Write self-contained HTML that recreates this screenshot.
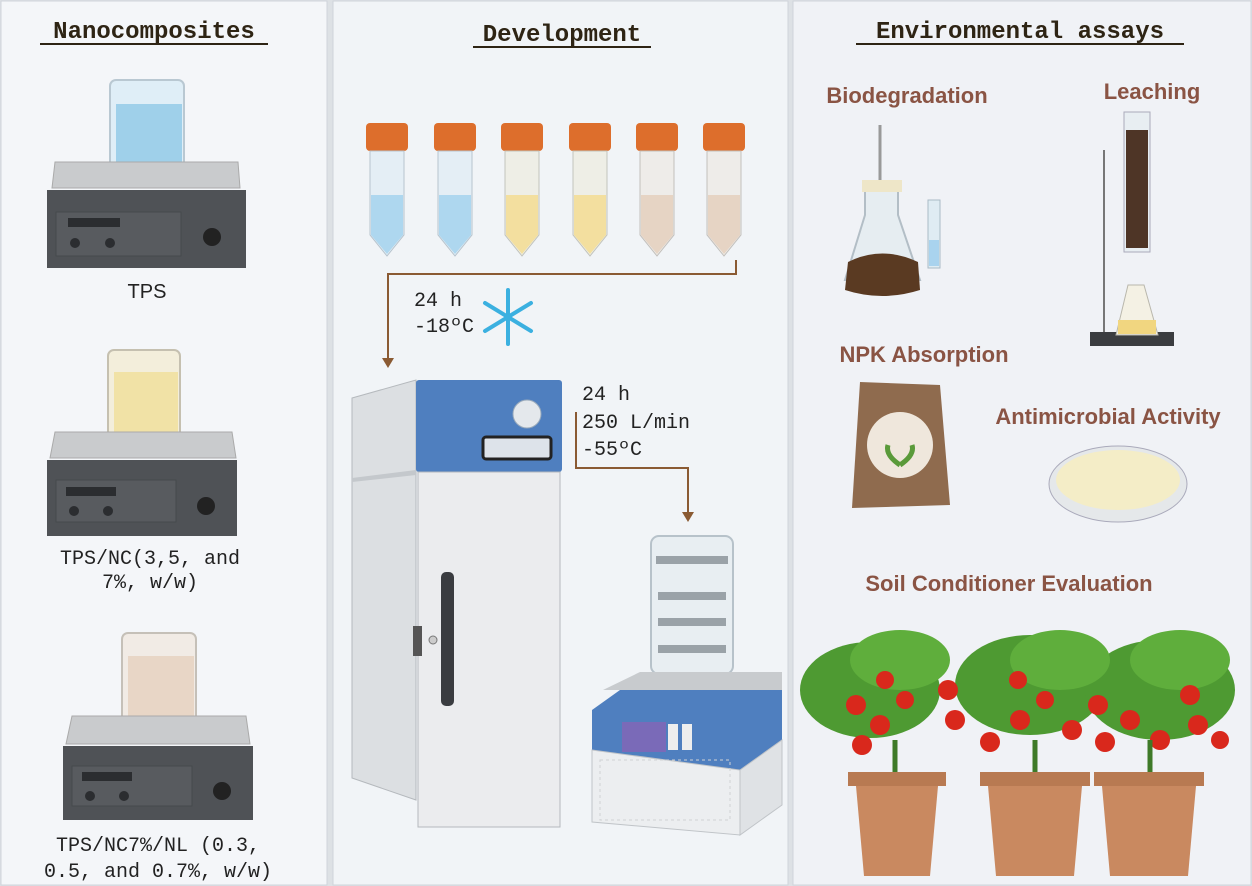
<!DOCTYPE html>
<html><head><style>
html,body{margin:0;padding:0;background:#e9ecef}
svg{display:block}
.t{font-family:"Liberation Mono",monospace;font-weight:bold;fill:#2e2414}
.m{font-family:"Liberation Mono",monospace;fill:#222}
.s{font-family:"Liberation Sans",sans-serif;font-weight:bold;fill:#8a5444}
</style></head><body>
<svg width="1252" height="886" viewBox="0 0 1252 886" xmlns="http://www.w3.org/2000/svg">
<rect width="1252" height="886" fill="#dde1e5"/>
<rect x="1" y="1" width="326" height="884" fill="#f4f6f9" stroke="#cfd4da"/>
<rect x="333" y="1" width="455" height="884" fill="#f1f4f7" stroke="#cfd4da"/>
<rect x="793" y="1" width="458" height="884" fill="#f0f2f6" stroke="#cfd4da"/>

<!-- titles -->
<text x="154" y="38" class="t" font-size="24" text-anchor="middle">Nanocomposites</text>
<line x1="40" y1="44" x2="268" y2="44" stroke="#2e2414" stroke-width="2"/>
<text x="562" y="41" class="t" font-size="24" text-anchor="middle">Development</text>
<line x1="473" y1="47" x2="651" y2="47" stroke="#2e2414" stroke-width="2"/>
<text x="1020" y="38" class="t" font-size="24" text-anchor="middle">Environmental assays</text>
<line x1="856" y1="44" x2="1184" y2="44" stroke="#2e2414" stroke-width="2"/>

<!-- stirrers -->
<g id="st1">
<rect x="110" y="80" width="74" height="96" rx="6" fill="#dfeef7" stroke="#b9c8d2" stroke-width="2"/>
<rect x="116" y="104" width="66" height="70" fill="#9fd0ea"/>
<polygon points="55,162 238,162 240,188 52,188" fill="#c9cbcd" stroke="#aaa"/>
<rect x="47" y="190" width="199" height="78" fill="#4f5256"/>
<rect x="56" y="212" width="125" height="44" fill="#585b5f" stroke="#46494c"/>
<rect x="68" y="218" width="52" height="9" fill="#2b2d30"/>
<circle cx="75" cy="243" r="5" fill="#2b2d30"/><circle cx="110" cy="243" r="5" fill="#2b2d30"/>
<circle cx="212" cy="237" r="9" fill="#222"/>
</g>
<text x="147" y="298" font-family="Liberation Sans,sans-serif" font-size="20" fill="#222" text-anchor="middle">TPS</text>

<rect x="108" y="350" width="72" height="96" rx="6" fill="#f3eedb" stroke="#c5c0b0" stroke-width="2"/>
<rect x="114" y="372" width="64" height="72" fill="#f1e2a6"/>
<polygon points="55,432 232,432 236,458 50,458" fill="#c9cbcd" stroke="#aaa"/>
<rect x="47" y="460" width="190" height="76" fill="#4f5256"/>
<rect x="56" y="480" width="120" height="42" fill="#585b5f" stroke="#46494c"/>
<rect x="66" y="487" width="50" height="9" fill="#2b2d30"/>
<circle cx="74" cy="511" r="5" fill="#2b2d30"/><circle cx="108" cy="511" r="5" fill="#2b2d30"/>
<circle cx="206" cy="506" r="9" fill="#222"/>
<text x="150" y="564" class="m" font-size="20" text-anchor="middle">TPS/NC(3,5, and</text>
<text x="150" y="588" class="m" font-size="20" text-anchor="middle">7%, w/w)</text>

<rect x="122" y="633" width="74" height="96" rx="6" fill="#f1ebe5" stroke="#c5c0b8" stroke-width="2"/>
<rect x="128" y="656" width="66" height="72" fill="#e8d6c6"/>
<polygon points="72,716 246,716 250,744 66,744" fill="#c9cbcd" stroke="#aaa"/>
<rect x="63" y="746" width="190" height="74" fill="#4f5256"/>
<rect x="72" y="766" width="120" height="40" fill="#585b5f" stroke="#46494c"/>
<rect x="82" y="772" width="50" height="9" fill="#2b2d30"/>
<circle cx="90" cy="796" r="5" fill="#2b2d30"/><circle cx="124" cy="796" r="5" fill="#2b2d30"/>
<circle cx="222" cy="791" r="9" fill="#222"/>
<text x="158" y="851" class="m" font-size="20" text-anchor="middle">TPS/NC7%/NL (0.3,</text>
<text x="158" y="877" class="m" font-size="20" text-anchor="middle">0.5, and 0.7%, w/w)</text>

<!-- tubes -->
<g>
<rect x="366" y="123" width="42" height="28" rx="4" fill="#dd6e2c"/>
<polygon points="370,151 404,151 404,235 387,256 370,235" fill="#e4eef5" stroke="#b7c4ce"/>
<polygon points="371,195 403,195 403,235 387,254 371,235" fill="#aed7ef"/>
<rect x="434" y="123" width="42" height="28" rx="4" fill="#dd6e2c"/>
<polygon points="438,151 472,151 472,235 455,256 438,235" fill="#e4eef5" stroke="#b7c4ce"/>
<polygon points="439,195 471,195 471,235 455,254 439,235" fill="#aed7ef"/>
<rect x="501" y="123" width="42" height="28" rx="4" fill="#dd6e2c"/>
<polygon points="505,151 539,151 539,235 522,256 505,235" fill="#eeeee6" stroke="#c3c4bc"/>
<polygon points="506,195 538,195 538,235 522,254 506,235" fill="#f3df9f"/>
<rect x="569" y="123" width="42" height="28" rx="4" fill="#dd6e2c"/>
<polygon points="573,151 607,151 607,235 590,256 573,235" fill="#eeeee6" stroke="#c3c4bc"/>
<polygon points="574,195 606,195 606,235 590,254 574,235" fill="#f3df9f"/>
<rect x="636" y="123" width="42" height="28" rx="4" fill="#dd6e2c"/>
<polygon points="640,151 674,151 674,235 657,256 640,235" fill="#eeece9" stroke="#c3c0bc"/>
<polygon points="641,195 673,195 673,235 657,254 641,235" fill="#e6d4c4"/>
<rect x="703" y="123" width="42" height="28" rx="4" fill="#dd6e2c"/>
<polygon points="707,151 741,151 741,235 724,256 707,235" fill="#eeece9" stroke="#c3c0bc"/>
<polygon points="708,195 740,195 740,235 724,254 708,235" fill="#e6d4c4"/>
</g>
<!-- arrows -->
<polyline points="736,260 736,274 388,274 388,360" fill="none" stroke="#8a5a33" stroke-width="2"/>
<polygon points="382,358 394,358 388,368" fill="#8a5a33"/>
<text x="414" y="306" class="m" font-size="20">24 h</text>
<text x="414" y="332" class="m" font-size="20">-18ºC</text>
<g stroke="#3bb0e0" stroke-width="4" stroke-linecap="round">
<line x1="508" y1="290" x2="508" y2="344"/><line x1="485" y1="303" x2="531" y2="331"/><line x1="485" y1="331" x2="531" y2="303"/>
</g>
<polyline points="576,412 576,468 688,468 688,514" fill="none" stroke="#8a5a33" stroke-width="2"/>
<polygon points="682,512 694,512 688,522" fill="#8a5a33"/>
<text x="582" y="400" class="m" font-size="20">24 h</text>
<text x="582" y="428" class="m" font-size="20">250 L/min</text>
<text x="582" y="455" class="m" font-size="20">-55ºC</text>

<!-- freezer -->
<polygon points="352,398 416,380 416,800 352,778" fill="#dcdfe2" stroke="#b5b9bd"/>
<polygon points="352,478 416,470 416,475 352,482" fill="#c4c8cc"/>
<rect x="416" y="380" width="146" height="92" rx="3" fill="#4f7fbf"/>
<circle cx="527" cy="414" r="14" fill="#e4e8ec" stroke="#9ab"/>
<rect x="483" y="437" width="68" height="22" rx="3" fill="#dde3ea" stroke="#222" stroke-width="3"/>
<rect x="418" y="472" width="142" height="355" fill="#ebecee" stroke="#b5b9bd"/>
<rect x="441" y="572" width="13" height="134" rx="5" fill="#3a3c40"/>
<rect x="413" y="626" width="9" height="30" fill="#555"/>
<circle cx="433" cy="640" r="4" fill="#ccc" stroke="#777"/>

<!-- freeze dryer -->
<rect x="651" y="536" width="82" height="138" rx="8" fill="#e8eef2" stroke="#b7c2ca" stroke-width="2"/>
<rect x="656" y="556" width="72" height="8" fill="#9aa2a8"/>
<rect x="658" y="592" width="68" height="8" fill="#9aa2a8"/>
<rect x="658" y="618" width="68" height="8" fill="#9aa2a8"/>
<rect x="658" y="645" width="68" height="8" fill="#9aa2a8"/>
<polygon points="603,690 640,672 782,672 782,690" fill="#c8cbce"/>
<polygon points="592,710 620,690 782,690 782,790 592,822" fill="#4f7fbf"/>
<rect x="622" y="722" width="44" height="30" fill="#7a6ab8"/>
<rect x="668" y="724" width="10" height="26" fill="#eee"/><rect x="682" y="724" width="10" height="26" fill="#eee"/>
<polygon points="592,750 740,770 740,835 592,822" fill="#eceef0" stroke="#c0c4c8"/>
<polygon points="740,770 782,740 782,805 740,835" fill="#dfe2e5" stroke="#c0c4c8"/>
<rect x="600" y="760" width="130" height="60" fill="none" stroke="#cfd2d5" stroke-dasharray="3 3"/>

<!-- right panel -->
<text x="907" y="103" class="s" font-size="22" text-anchor="middle">Biodegradation</text>
<text x="1152" y="99" class="s" font-size="22" text-anchor="middle">Leaching</text>
<polygon points="865,190 898,190 898,215 920,280 845,280 865,215" fill="#e6edf1" stroke="#b3bec6" stroke-width="2"/>
<rect x="862" y="180" width="40" height="12" fill="#eee6c8"/>
<path d="M848,262 Q882,245 918,262 L920,290 Q882,302 845,290 Z" fill="#5a3a22"/>
<rect x="928" y="200" width="12" height="68" fill="#dfecf3" stroke="#aabbc6"/>
<rect x="929" y="240" width="10" height="26" fill="#a9d3ee"/>
<line x1="880" y1="125" x2="880" y2="180" stroke="#999" stroke-width="3"/>
<rect x="1124" y="112" width="26" height="140" fill="#e8eef2" stroke="#aab"/>
<rect x="1126" y="130" width="22" height="118" fill="#4e3526"/>
<line x1="1104" y1="150" x2="1104" y2="338" stroke="#777" stroke-width="2"/>
<rect x="1090" y="332" width="84" height="14" fill="#3b3d40"/>
<polygon points="1128,285 1144,285 1158,335 1116,335" fill="#f4f1e4" stroke="#b9b7ac"/>
<rect x="1118" y="320" width="38" height="14" fill="#f1d680"/>
<text x="924" y="362" class="s" font-size="22" text-anchor="middle">NPK Absorption</text>
<polygon points="860,382 940,385 950,505 852,508" fill="#8f6b4e"/>
<circle cx="900" cy="445" r="33" fill="#efe7dc"/>
<path d="M900,465 Q885,455 888,445 M900,465 Q915,455 912,445" stroke="#5a9a3a" stroke-width="5" fill="none"/>
<text x="1108" y="424" class="s" font-size="22" text-anchor="middle">Antimicrobial Activity</text>
<ellipse cx="1118" cy="484" rx="69" ry="38" fill="#e5e8ea" stroke="#aab"/>
<ellipse cx="1118" cy="480" rx="62" ry="30" fill="#f4edc7"/>
<text x="1009" y="591" class="s" font-size="22" text-anchor="middle">Soil Conditioner Evaluation</text>
<!-- plants -->
<g>
<ellipse cx="870" cy="690" rx="70" ry="48" fill="#4e9a32"/>
<ellipse cx="1030" cy="685" rx="75" ry="50" fill="#4e9a32"/>
<ellipse cx="1160" cy="690" rx="75" ry="50" fill="#4e9a32"/>
<ellipse cx="900" cy="660" rx="50" ry="30" fill="#5fae3c"/>
<ellipse cx="1060" cy="660" rx="50" ry="30" fill="#5fae3c"/>
<ellipse cx="1180" cy="660" rx="50" ry="30" fill="#5fae3c"/>
<g fill="#d9281c">
<circle cx="856" cy="705" r="10"/><circle cx="880" cy="725" r="10"/><circle cx="862" cy="745" r="10"/><circle cx="905" cy="700" r="9"/><circle cx="948" cy="690" r="10"/><circle cx="955" cy="720" r="10"/><circle cx="990" cy="742" r="10"/><circle cx="1020" cy="720" r="10"/><circle cx="1045" cy="700" r="9"/><circle cx="1072" cy="730" r="10"/><circle cx="1098" cy="705" r="10"/><circle cx="1105" cy="742" r="10"/><circle cx="1130" cy="720" r="10"/><circle cx="1160" cy="740" r="10"/><circle cx="1190" cy="695" r="10"/><circle cx="1198" cy="725" r="10"/><circle cx="1220" cy="740" r="9"/><circle cx="885" cy="680" r="9"/><circle cx="1018" cy="680" r="9"/>
</g>
<line x1="895" y1="740" x2="895" y2="775" stroke="#3e7a28" stroke-width="5"/>
<line x1="1035" y1="740" x2="1035" y2="775" stroke="#3e7a28" stroke-width="5"/>
<line x1="1150" y1="740" x2="1150" y2="775" stroke="#3e7a28" stroke-width="5"/>
<g fill="#c98960"><rect x="848" y="772" width="98" height="14" fill="#b87a52"/><polygon points="856,786 938,786 930,876 864,876"/>
<rect x="980" y="772" width="110" height="14" fill="#b87a52"/><polygon points="988,786 1082,786 1074,876 996,876"/>
<rect x="1094" y="772" width="110" height="14" fill="#b87a52"/><polygon points="1102,786 1196,786 1188,876 1110,876"/></g>
</g>
</svg>
</body></html>
